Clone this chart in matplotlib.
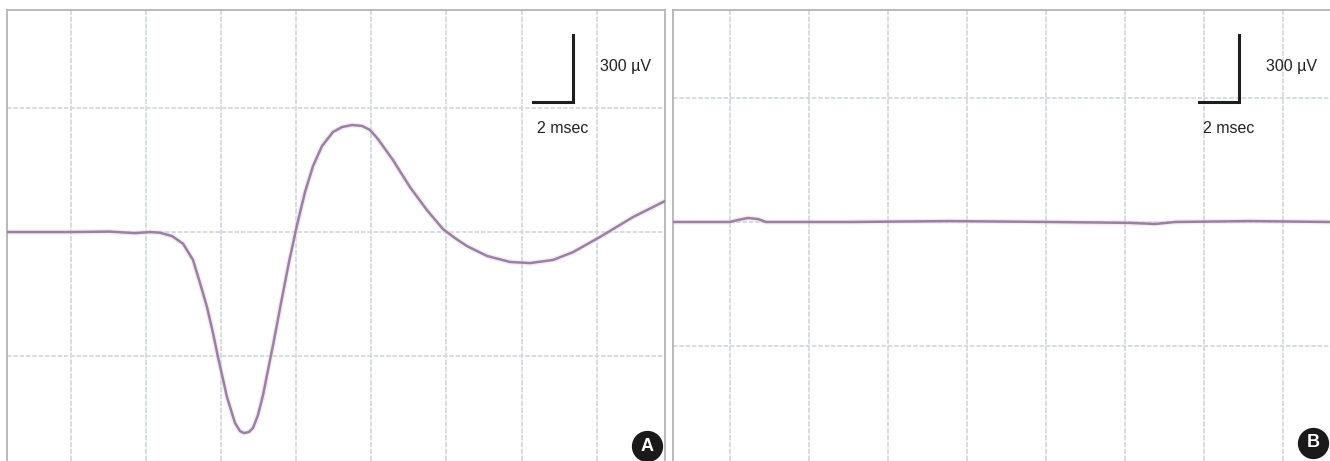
""" Two oscilloscope traces (A: evoked response, B: flat response) """
import numpy as np
import matplotlib.pyplot as plt

plt.rcParams['font.family'] = ['Liberation Sans', 'DejaVu Sans']

# Trace A: time (ms) and amplitude (uV)
time_a = [0.0, 3.2, 5.15, 6.4, 7.15, 7.65, 8.25, 8.8, 9.3, 9.65, 10.0, 10.3,
          10.55, 11.0, 11.4, 11.65, 11.85, 12.1, 12.3, 12.55, 12.8, 13.05,
          13.35, 13.7, 14.1, 14.5, 14.9, 15.3, 15.75, 16.3, 16.75, 17.25,
          17.75, 18.15, 18.55, 19.3, 20.15, 21.0, 21.8, 22.4, 23.0, 24.0,
          25.15, 26.15, 27.3, 28.3, 29.65, 31.3, 32.9]
amp_a = [0, 0, 2, -5, 0, -3, -18, -52, -125, -228, -336, -452,
         -560, -739, -855, -891, -900, -895, -877, -819, -730, -618,
         -484, -318, -134, 31, 179, 295, 385, 448, 470, 479,
         475, 457, 416, 322, 201, 98, 13, -27, -63, -107,
         -134, -139, -125, -90, -22, 67, 139]

# Trace B: time (ms) and amplitude (uV)
time_b = [0.0, 2.85, 3.25, 3.75, 4.25, 4.65, 8.85, 13.85, 18.85, 22.85,
          24.1, 25.1, 28.85, 32.85]
amp_b = [0, 0, 9, 18, 13, 0, 0, 4, 0, -4, -9, 0, 4, 0]

panel_labels = ['A', 'B']
bar_time = 2      # ms
bar_amp = 300     # uV

# screen divisions
DIV_UV = 555
TRACE_COLOR = '#9683a3'
GRID_COLOR = '#d6dae1'
BORDER_COLOR = '#b4b4b4'

W, H = 1330, 461
fig = plt.figure(figsize=(W / 100, H / 100), dpi=100)


def draw_panel(rect, t, v, xlim, ylim, grid_x0, grid_dx, label, label_pos, corner):
    ax = fig.add_axes(rect)
    ax.set_xlim(*xlim)
    ax.set_ylim(*ylim)
    ax.set_xticks([])
    ax.set_yticks([])

    # graticule
    for gx in np.arange(grid_x0, xlim[1], grid_dx):
        ax.axvline(gx, color=GRID_COLOR, lw=1.3, ls=(0, (3, 0.8)), zorder=1)
    for gy in np.arange(-2, 3) * DIV_UV:
        if ylim[0] < gy < ylim[1]:
            ax.axhline(gy, color=GRID_COLOR, lw=1.3, ls=(0, (2.5, 1)), zorder=1)

    # trace with faint halo
    ax.plot(t, v, color='#f4d0e6', lw=3.8, alpha=0.45, zorder=2,
            solid_capstyle='round', solid_joinstyle='round')
    ax.plot(t, v, color=TRACE_COLOR, lw=1.8, zorder=3,
            solid_capstyle='round', solid_joinstyle='round')

    # calibration bar
    x0, y0 = corner
    ax.plot([x0 - bar_time, x0, x0], [y0, y0, y0 + bar_amp],
            color='#1e1e1e', lw=2.2, solid_joinstyle='miter', zorder=4)
    ax.text(x0 + 1.35, y0 + 157, f'{bar_amp} \u00b5V', fontsize=11.5,
            va='center', ha='left', color='#222222')
    ax.text(x0 - 1.78, y0 - 118, f'{bar_time} msec', fontsize=11.5,
            va='center', ha='left', color='#222222')

    # panel letter
    ax.plot(*label_pos, 'o', ms=21.5, color='#1a1a1a', transform=ax.transAxes,
            clip_on=False, zorder=5)
    ax.text(*label_pos, label, transform=ax.transAxes, color='white',
            fontsize=13, fontweight='bold', ha='center', va='center', zorder=6)

    for side in ['left', 'top', 'right']:
        ax.spines[side].set_color(BORDER_COLOR)
        ax.spines[side].set_linewidth(1.3)
    ax.spines['bottom'].set_visible(False)
    return ax


draw_panel([7 / W, 0, 658 / W, 451 / H], time_a, amp_a,
           (0, 32.9), (-1025, 994), 3.2, 3.755, panel_labels[0],
           (0.9726, 0.033), (28.3, 582))
draw_panel([673 / W, 0, 658 / W, 451 / H], time_b, amp_b,
           (0, 32.9), (-1070, 949), 2.85, 3.95, panel_labels[1],
           (0.9726, 0.040), (28.3, 537))

fig.savefig('out.png', dpi=100)
